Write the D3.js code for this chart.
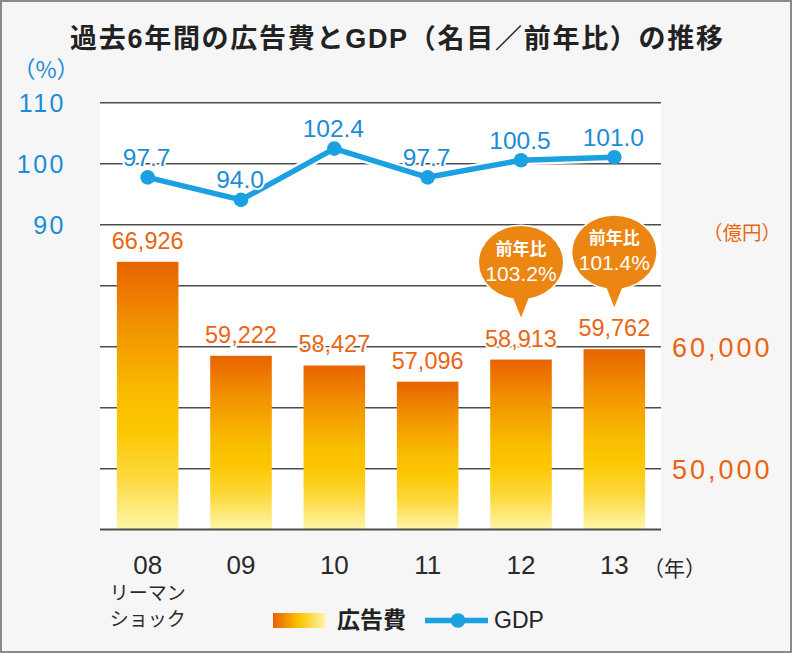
<!DOCTYPE html>
<html><head><meta charset="utf-8">
<script src="https://cdn.jsdelivr.net/npm/d3@7"></script>
<style>
html,body{margin:0;padding:0;background:#fff;}
svg{display:block;font-family:"Liberation Sans","Noto Sans CJK JP",sans-serif;}
.jp{font-family:"Noto Sans CJK JP",sans-serif;}
</style></head>
<body>
<svg id="c" width="793" height="661"></svg>
<script>
// ---- data ----
const years = ["08","09","10","11","12","13"];
const adSpend = [66926, 59222, 58427, 57096, 58913, 59762];
const gdp = [97.7, 94.0, 102.4, 97.7, 100.5, 101.0];
const leftTickValues = [90, 100, 110];
const rightTickValues = [50000, 60000];
const bubbleYears = ["12", "13"];
const bubbleValues = ["103.2%", "101.4%"];
const bubbleHeading = "前年比";
const title = "過去6年間の広告費とGDP（名目／前年比）の推移";
const noteLines = ["リーマン", "ショック"];

const ORANGE_TXT = "#ea6511", BLUE_LINE = "#1ba0e2", BLUE_TXT = "#1a8dd6", BUBBLE = "#ec8612";

const svg = d3.select("#c");
const defs = svg.append("defs");
const g1 = defs.append("linearGradient").attr("id","barGrad").attr("x1",0).attr("y1",0).attr("x2",0).attr("y2",1);
[[0,"#e86300"],[0.25,"#f29400"],[0.5,"#f9bd00"],[0.62,"#fcc600"],[0.8,"#fdd83a"],[1,"#fff6a8"]]
  .forEach(([o,c])=>g1.append("stop").attr("offset",o).attr("stop-color",c));
const g2 = defs.append("linearGradient").attr("id","legGrad").attr("x1",0).attr("y1",0).attr("x2",1).attr("y2",0);
[[0,"#e86300"],[0.5,"#fbc400"],[1,"#fff6b0"]]
  .forEach(([o,c])=>g2.append("stop").attr("offset",o).attr("stop-color",c));

// frame
svg.append("rect").attr("x",1).attr("y",1).attr("width",790).attr("height",651)
  .attr("fill","#f6f6f6").attr("stroke","#8a8a8a").attr("stroke-width",2);

// layout
const L = 100, R = 661, T = 102.3, B = 529.3;
const x = d3.scaleBand().domain(years).range([101, 661]).paddingInner(0.34).paddingOuter(0.17);
const yL = d3.scaleLinear().domain([40, 110]).range([B, T]);
const yR = d3.scaleLinear().domain([45000, 80000]).range([B, T]);

svg.append("rect").attr("x",L).attr("y",T).attr("width",R-L).attr("height",B-T).attr("fill","#fff");

// title
svg.append("text").attr("x",70).attr("y",48).attr("textLength",653).attr("lengthAdjust","spacing")
  .attr("font-size",27).attr("font-weight","bold").attr("fill","#222").text(title);

// gridlines via axis
const grid = svg.append("g").attr("transform",`translate(${L},0)`)
  .call(d3.axisLeft(yL).tickValues(d3.range(40,111,10)).tickSize(-(R-L)).tickFormat(""));
grid.select(".domain").remove();
grid.selectAll(".tick line").attr("stroke","#4d4d4d").attr("stroke-width",1.4);

// left tick labels
const la = svg.append("g").attr("transform",`translate(66,0)`)
  .call(d3.axisLeft(yL).tickValues(leftTickValues).tickSize(0).tickPadding(0));
la.select(".domain").remove();
la.selectAll("text").attr("font-size",25).attr("letter-spacing","2.5px").attr("fill",BLUE_TXT)
  .attr("font-family","Liberation Sans").attr("dy","0.36em");
svg.append("text").attr("class","jp").attr("x",46).attr("y",78).attr("text-anchor","middle")
  .attr("font-size",23).attr("fill",BLUE_TXT).text("（%）");

// right tick labels
const ra = svg.append("g").attr("transform",`translate(672,0)`)
  .call(d3.axisRight(yR).tickValues(rightTickValues).tickSize(0).tickPadding(0).tickFormat(d3.format(",")));
ra.select(".domain").remove();
ra.selectAll("text").attr("font-size",27).attr("letter-spacing","3px").attr("fill",ORANGE_TXT)
  .attr("font-family","Liberation Sans").attr("dy","0.36em");
svg.append("text").attr("class","jp").attr("x",742).attr("y",240).attr("text-anchor","middle")
  .attr("font-size",19.5).attr("fill",ORANGE_TXT).text("（億円）");

// bars
svg.append("g").selectAll("rect").data(years).join("rect")
  .attr("x",d=>x(d)).attr("width",x.bandwidth())
  .attr("y",(d,i)=>yR(adSpend[i])).attr("height",(d,i)=>B-yR(adSpend[i]))
  .attr("fill","url(#barGrad)");

// bottom axis line
svg.append("line").attr("x1",L).attr("x2",R).attr("y1",B).attr("y2",B).attr("stroke","#4d4d4d").attr("stroke-width",1.6);

// bar value labels
svg.append("g").selectAll("text").data(years).join("text")
  .attr("x",d=>x(d)+x.bandwidth()/2).attr("y",(d,i)=>yR(adSpend[i])-13)
  .attr("text-anchor","middle").attr("font-size",23.5).attr("fill",ORANGE_TXT)
  .attr("stroke","#fff").attr("stroke-width",4).attr("paint-order","stroke")
  .text((d,i)=>d3.format(",")(adSpend[i]));

// GDP line
const cx = d=>x(d)+x.bandwidth()/2;
const line = d3.line().x((d,i)=>cx(years[i])).y(d=>yL(d));
svg.append("path").datum(gdp).attr("d",line).attr("fill","none").attr("stroke","#fff").attr("stroke-width",10);
svg.append("path").datum(gdp).attr("d",line).attr("fill","none").attr("stroke",BLUE_LINE).attr("stroke-width",5.5).attr("stroke-linejoin","round");
svg.append("g").selectAll("circle").data(gdp).join("circle")
  .attr("cx",(d,i)=>cx(years[i])).attr("cy",d=>yL(d)).attr("r",7.3).attr("fill",BLUE_LINE);
svg.append("g").selectAll("text").data(gdp).join("text")
  .attr("x",(d,i)=>cx(years[i])-1).attr("y",d=>yL(d)-11.5)
  .attr("text-anchor","middle").attr("font-size",24.5).attr("fill",BLUE_TXT)
  .attr("stroke","#fff").attr("stroke-width",4).attr("paint-order","stroke")
  .text(d=>d3.format(".1f")(d));

// bubbles
bubbleYears.forEach((yr,k)=>{
  const i = years.indexOf(yr);
  const bx = cx(yr), top = yR(adSpend[i]);
  const cy = top - 97, tip = top - 42;
  const g = svg.append("g");
  const path = d3.path();
  path.moveTo(bx-10, cy+30); path.lineTo(bx, tip); path.lineTo(bx+10, cy+30); path.closePath();
  g.append("ellipse").attr("cx",bx).attr("cy",cy).attr("rx",42).attr("ry",36.5)
    .attr("fill",BUBBLE).attr("stroke","#fff").attr("stroke-width",3);
  g.append("path").attr("d",path.toString()).attr("fill",BUBBLE).attr("stroke","#fff").attr("stroke-width",3).attr("stroke-linejoin","round");
  g.append("ellipse").attr("cx",bx).attr("cy",cy).attr("rx",42).attr("ry",36.5).attr("fill",BUBBLE);
  g.append("path").attr("d",path.toString()).attr("fill",BUBBLE);
  g.append("ellipse").attr("cx",bx).attr("cy",cy+22).attr("rx",14).attr("ry",10).attr("fill",BUBBLE);
  g.append("text").attr("class","jp").attr("x",bx).attr("y",cy-8).attr("text-anchor","middle")
    .attr("font-size",17).attr("font-weight","bold").attr("fill","#fff").text(bubbleHeading);
  g.append("text").attr("x",bx).attr("y",cy+18).attr("text-anchor","middle")
    .attr("font-size",21).attr("fill","#fff").text(bubbleValues[k]);
});

// x axis labels
const xa = svg.append("g").attr("transform",`translate(0,574)`)
  .call(d3.axisBottom(x).tickSize(0).tickPadding(0));
xa.select(".domain").remove();
xa.selectAll("text").attr("font-size",26).attr("fill","#2a2a2a").attr("font-family","Liberation Sans").attr("dy",0);
svg.append("text").attr("class","jp").attr("x",643).attr("y",576).attr("font-size",21).attr("fill","#2a2a2a").text("（年）");
noteLines.forEach((t,j)=>{
  svg.append("text").attr("class","jp").attr("x",cx("08")).attr("y",600+j*26).attr("text-anchor","middle")
    .attr("font-size",19).attr("fill","#2a2a2a").text(t);
});

// legend
svg.append("rect").attr("x",273).attr("y",613).attr("width",53).attr("height",15).attr("fill","url(#legGrad)");
svg.append("text").attr("class","jp").attr("x",337).attr("y",628).attr("font-size",23).attr("font-weight","bold").attr("fill","#222").text("広告費");
svg.append("line").attr("x1",425).attr("x2",488).attr("y1",620.5).attr("y2",620.5).attr("stroke",BLUE_LINE).attr("stroke-width",5.5);
svg.append("circle").attr("cx",458).attr("cy",620.5).attr("r",7.3).attr("fill",BLUE_LINE);
svg.append("text").attr("x",494).attr("y",628).attr("font-size",23).attr("fill","#222").text("GDP");
</script>
</body></html>
